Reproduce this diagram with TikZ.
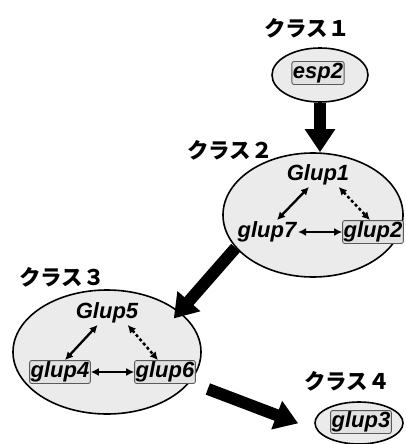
\documentclass[tikz,border=0pt]{standalone}
\usepackage{fontspec}
\setmainfont{Liberation Sans}
\newfontfamily\jpfont{Noto Sans CJK JP}[UprightFont={* Black},BoldFont={* Black}]
\usetikzlibrary{shapes.geometric,arrows.meta}
\definecolor{ellgray}{HTML}{EBEBEB}
\definecolor{boxfill}{HTML}{E2E2E2}
\definecolor{boxline}{HTML}{5A5A5A}
\newcommand\glf{\bfseries\itshape\fontsize{22}{26}\selectfont}
\begin{document}
\begin{tikzpicture}[x=1pt,y=-1pt,
  cls/.style={draw=black,line width=1.6pt,fill=ellgray,ellipse,inner sep=0pt},
  gbox/.style={draw=boxline,line width=0.9pt,fill=boxfill,rounded corners=2pt,inner xsep=1pt,inner ysep=1.2pt,font=\glf,text height=15.8pt,text depth=4.7pt},
  gtxt/.style={inner sep=1.5pt,font=\glf,text height=15.8pt,text depth=4.7pt},
  lbl/.style={font=\jpfont\fontsize{21.5}{25}\selectfont,inner sep=0pt},
  big/.style={line width=12pt,-{Triangle[length=23pt,width=29pt]}},
  dbl/.style={line width=2.3pt,{Latex[length=8pt,width=8pt]}-{Latex[length=8pt,width=8pt]}},
  dotarr/.style={dbl,line width=2.5pt,dash pattern=on 3pt off 2.5pt}]
\useasboundingbox (0,0) rectangle (405,444);
% class 1
\node[cls,minimum width=96pt,minimum height=54pt] (e1) at (320,75) {};
\node[gbox] (esp2) at (318,73) {esp2};
\node[lbl] (c1) at (307,28) {クラス１};
% class 2
\node[cls,minimum width=180pt,minimum height=124pt] (e2) at (313,215) {};
\node[lbl] (c2) at (230,150) {クラス２};
\node[gtxt] (G1) at (318,175) {Glup1};
\node[gtxt] (g7) at (267,232) {glup7};
\node[gbox] (g2) at (373,232) {glup2};
% class 3
\node[cls,minimum width=188pt,minimum height=124pt] (e3) at (107,352) {};
\node[lbl] (c3) at (62,277) {クラス３};
\node[gtxt] (G5) at (107,313) {Glup5};
\node[gbox] (g4) at (60,372) {glup4};
\node[gbox] (g6) at (165,372) {glup6};
% class 4
\node[cls,minimum width=88pt,minimum height=42pt] (e4) at (359,423) {};
\node[lbl] (c4) at (347,381) {クラス４};
\node[gbox] (g3) at (361,422) {glup3};
% big arrows
\draw[big] (e1.south) -- (e1.south |- e2.north);
\draw[big,shorten >=-9pt] (e2.203) -- (e3.29);
\draw[big,shorten <=19pt,shorten >=20pt] (e3.-20) -- (e4.190);
% small arrows
\draw[dbl] (G1.233) -- ([xshift=10pt]g7.north);
\draw[dotarr] (G1.-30) -- ([xshift=-3pt]g2.north);
\draw[dbl] (g7.east) -- (g2.west);
\draw[dbl] (G5.232) -- ([xshift=5pt]g4.north);
\draw[dotarr] (G5.-30) -- ([xshift=-7pt]g6.north);
\draw[dbl] (g4.east) -- (g6.west);
\end{tikzpicture}
\end{document}
